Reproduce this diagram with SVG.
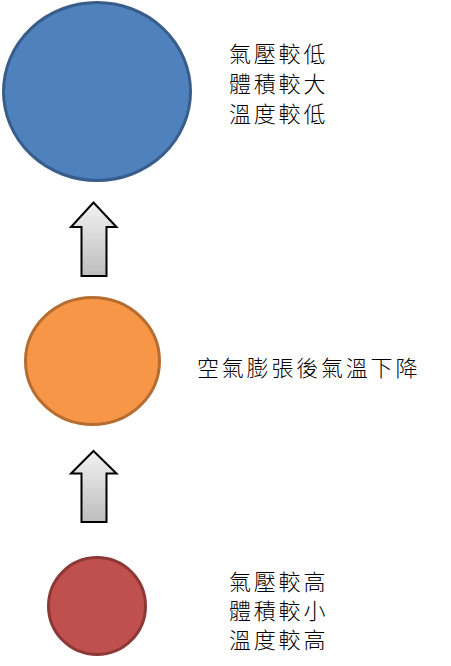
<svg xmlns="http://www.w3.org/2000/svg" width="451" height="666" viewBox="0 0 451 666">
<defs>
<linearGradient id="g" x1="0" y1="0" x2="0" y2="1">
<stop offset="0" stop-color="#f2f2f2"/>
<stop offset="1" stop-color="#bdbdbd"/>
</linearGradient>
<style>
.t{font-family:"Noto Sans CJK TC","Noto Sans CJK SC",sans-serif;font-size:22px;font-weight:300;fill:#000;letter-spacing:2.8px}
.ar{fill:url(#g);stroke:#000;stroke-width:2;stroke-linejoin:miter}
</style>
</defs>
<rect width="451" height="666" fill="#fff"/>
<g id="node-top">
<ellipse cx="97" cy="91.5" rx="93.5" ry="89" fill="#4f81bd" stroke="#385d8a" stroke-width="3"/>
</g>
<g id="node-mid">
<ellipse cx="92.5" cy="361" rx="67" ry="63.5" fill="#f79646" stroke="#b66d31" stroke-width="3"/>
</g>
<g id="node-bottom">
<circle cx="97" cy="606" r="48.5" fill="#c0504d" stroke="#8c3836" stroke-width="3"/>
</g>
<g id="label-top">
<text class="t" x="229" y="62">氣壓較低</text>
<text class="t" x="229" y="92">體積較大</text>
<text class="t" x="229" y="122">溫度較低</text>
</g>
<g id="label-mid">
<text class="t" x="197" y="376">空氣膨張後氣溫下降</text>
</g>
<g id="label-bottom">
<text class="t" x="229" y="590">氣壓較高</text>
<text class="t" x="229" y="619">體積較小</text>
<text class="t" x="229" y="648">溫度較高</text>
</g>
<g id="connectors">
<path class="ar" d="M93.5,202.5 L116.5,227 L106.5,227 L106.5,276 L81.5,276 L81.5,227 L71,227 Z"/>
<path class="ar" d="M93.5,451 L116.5,473.5 L106.5,473.5 L106.5,522 L81.5,522 L81.5,473.5 L71,473.5 Z"/>
</g>
</svg>
